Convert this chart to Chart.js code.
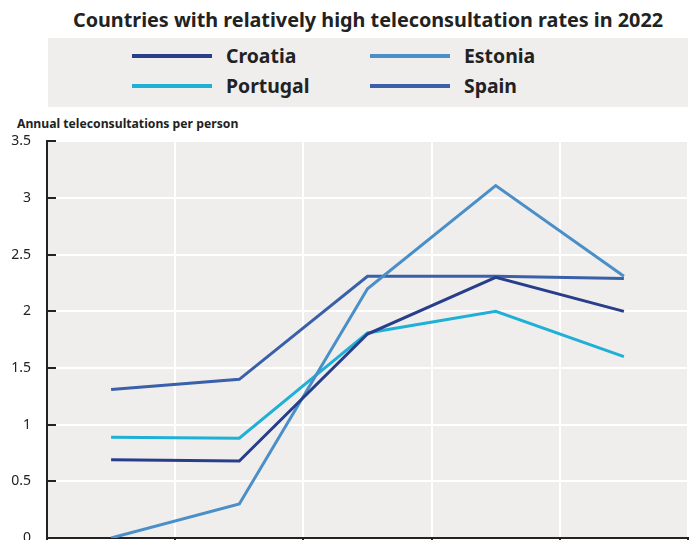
<!DOCTYPE html>
<html>
<head>
<meta charset="utf-8">
<script src="https://cdn.jsdelivr.net/npm/chart.js@4/dist/chart.umd.min.js"></script>
<style>
  html, body { margin: 0; padding: 0; background: #fff; overflow: hidden; }
  body { width: 692px; height: 540px; position: relative; font-family: "Noto Sans", sans-serif; color: #222; }
  #title { position: absolute; left: 48px; width: 640px; top: 6px; text-align: center; font-weight: bold; font-size: 19.8px; white-space: nowrap; }
  #legend { position: absolute; left: 48px; top: 38px; width: 640px; height: 69px; background: #efeeed; }
  .item { position: absolute; font-weight: bold; font-size: 19.4px; line-height: 22px; }
  .item span.sw { position: absolute; left: 0; top: 9px; width: 80px; height: 4px; }
  .item span.lb { position: absolute; left: 94px; white-space: nowrap; }
  #ytitle { position: absolute; left: 17px; top: 115px; font-weight: bold; font-size: 12.2px; white-space: nowrap; }
  #wrap { position: absolute; left: 0; top: 117px; width: 692px; height: 463px; }
</style>
</head>
<body>
<div id="title">Countries with relatively high teleconsultation rates in 2022</div>
<div id="legend"></div>
<div id="ytitle">Annual teleconsultations per person</div>
<div id="wrap"><canvas id="chart"></canvas></div>
<script>
// data (x labels are cut off below the window)
const years = ['2018', '2019', '2020', '2021', '2022'];
const croatia = [0.69, 0.68, 1.8, 2.3, 2.0];
const estonia = [0.0, 0.3, 2.2, 3.11, 2.31];
const portugal = [0.89, 0.88, 1.81, 2.0, 1.6];
const spain = [1.31, 1.4, 2.31, 2.31, 2.29];
const yTicks = [0, 0.5, 1, 1.5, 2, 2.5, 3, 3.5];

const series = [
    { label: 'Croatia', data: croatia, color: '#283e8b' },
    { label: 'Estonia', data: estonia, color: '#4a8fc7' },
    { label: 'Portugal', data: portugal, color: '#20b0d6' },
    { label: 'Spain', data: spain, color: '#3a60aa' }
];

// html legend, two columns
const legend = document.getElementById('legend');
series.forEach(function(s, i) {
    const el = document.createElement('div');
    el.className = 'item';
    el.style.left = (i % 2 === 0 ? 84 : 322) + 'px';
    el.style.top = (i < 2 ? 7 : 37) + 'px';
    el.innerHTML = '<span class="sw" style="background:' + s.color + '"></span><span class="lb">' + s.label + '</span>';
    legend.appendChild(el);
});

// gray plot background + inward y ticks
const plotBg = {
    id: 'plotBg',
    beforeDraw(chart) {
        const a = chart.chartArea, ctx = chart.ctx;
        ctx.save();
        ctx.fillStyle = '#efeeed';
        ctx.fillRect(a.left, a.top, a.right - a.left, a.bottom - a.top);
        ctx.restore();
    },
    afterDatasetsDraw(chart) {
        const y = chart.scales.y, a = chart.chartArea, ctx = chart.ctx;
        ctx.save();
        ctx.strokeStyle = '#222';
        ctx.lineWidth = 2;
        yTicks.forEach(function(v) {
            const py = Math.round(y.getPixelForValue(v));
            ctx.beginPath();
            ctx.moveTo(a.left, py);
            ctx.lineTo(a.left + 9, py);
            ctx.stroke();
        });
        for (let i = 0; i <= years.length; i++) {
            const px = Math.round(a.left + i * (a.right - a.left) / years.length);
            ctx.beginPath();
            ctx.moveTo(px, a.bottom);
            ctx.lineTo(px, a.bottom + 8);
            ctx.stroke();
        }
        ctx.restore();
    }
};

const ctx = document.getElementById('chart').getContext('2d');
new Chart(ctx, {
    type: 'line',
    data: {
        labels: years,
        datasets: series.map(function(s) {
            return {
                label: s.label,
                data: s.data,
                borderColor: s.color,
                backgroundColor: s.color,
                borderWidth: 3,
                pointRadius: 0,
                tension: 0,
                fill: false
            };
        })
    },
    options: {
        responsive: true,
        maintainAspectRatio: false,
        animation: false,
        layout: { padding: { top: 3, right: 4, left: 0, bottom: 0 } },
        plugins: { legend: { display: false }, title: { display: false }, tooltip: { enabled: false } },
        scales: {
            x: {
                offset: true,
                grid: { offset: true, color: '#ffffff', lineWidth: 2, drawTicks: false },
                border: { color: '#222', width: 2 },
                ticks: { color: '#222', font: { family: 'Noto Sans', size: 14 }, padding: 10 },
                afterFit(s) { s.height = 42; }
            },
            y: {
                min: 0,
                max: 3.5,
                afterBuildTicks(s) { s.ticks = yTicks.map(function(v) { return { value: v }; }); },
                grid: { color: '#ffffff', lineWidth: 2, drawTicks: false },
                border: { color: '#222', width: 2 },
                ticks: {
                    color: '#222',
                    font: { family: 'Noto Sans', size: 14 },
                    padding: 16,
                    callback: function(v) { return String(v); }
                },
                afterFit(s) { s.width = 47; }
            }
        }
    },
    plugins: [plotBg]
});
</script>
</body>
</html>
